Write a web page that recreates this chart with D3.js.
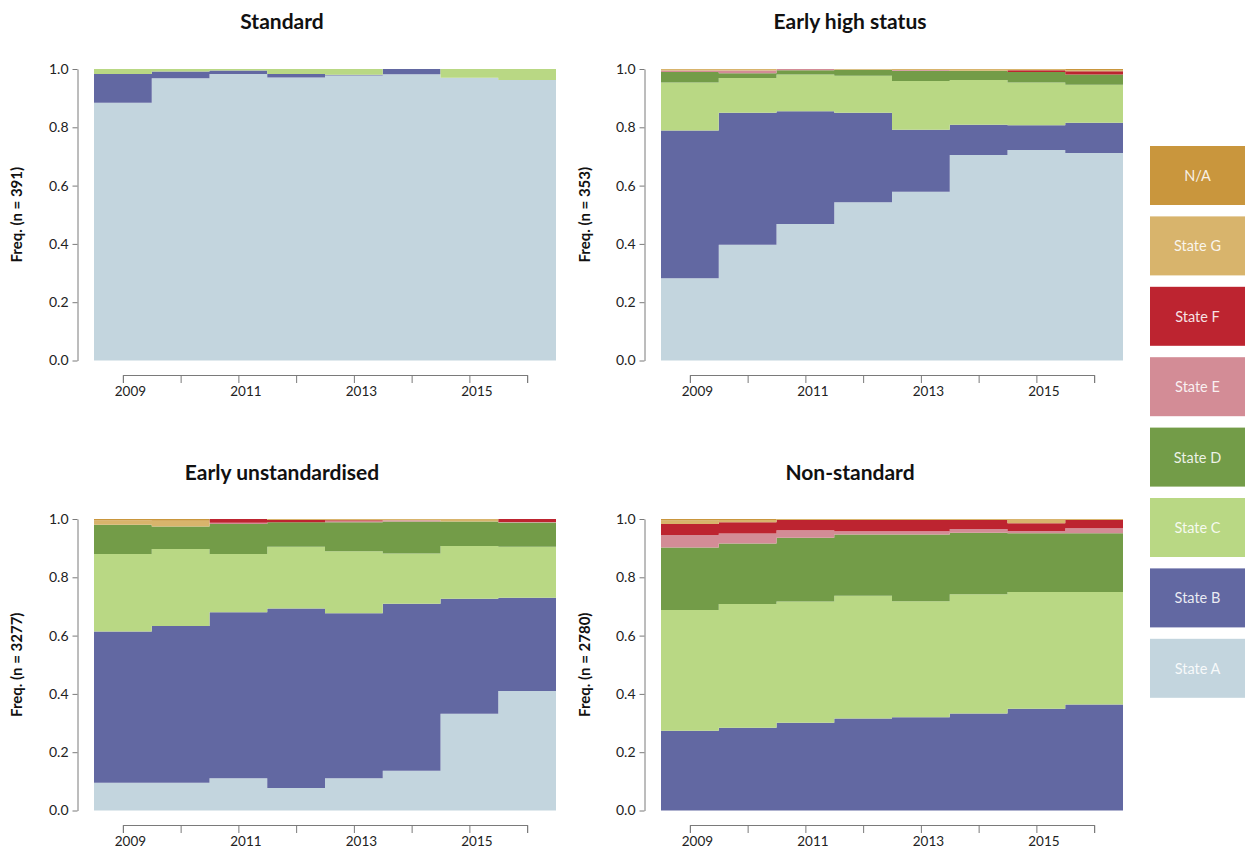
<!DOCTYPE html>
<html>
<head>
<meta charset="utf-8">
<script src="https://cdn.jsdelivr.net/npm/d3@7/dist/d3.min.js"></script>
<style>
  html, body { margin: 0; padding: 0; background: #ffffff; }
  svg { display: block; font-family: Lato, "Noto Sans", sans-serif; }
</style>
</head>
<body>
<svg id="chart" width="1245" height="848"></svg>
<script>
// Yearly state distributions, one panel per cluster.
const years = [2009, 2010, 2011, 2012, 2013, 2014, 2015, 2016];
const states = ["State A", "State B", "State C", "State D", "State E", "State F", "State G", "N/A"];
const stateColours = ["#c3d5de", "#6268a2", "#b9d884", "#739c48", "#d38c96", "#bd2430", "#d8b46c", "#c9963d"];
const panelTitles = ["Standard", "Early high status", "Early unstandardised", "Non-standard"];
const sampleSizes = [391, 353, 3277, 2780];
const yTicks = [0, 0.2, 0.4, 0.6, 0.8, 1.0];

// Shares per state (rows in the order of `states`), one value per year.
const standardShares = [
  [0.884, 0.968, 0.983, 0.971, 0.978, 0.982, 0.970, 0.962],
  [0.099, 0.023, 0.012, 0.012, 0.002, 0.018, 0.000, 0.000],
  [0.017, 0.009, 0.005, 0.017, 0.020, 0.000, 0.030, 0.038],
  [0, 0, 0, 0, 0, 0, 0, 0],
  [0, 0, 0, 0, 0, 0, 0, 0],
  [0, 0, 0, 0, 0, 0, 0, 0],
  [0, 0, 0, 0, 0, 0, 0, 0],
  [0, 0, 0, 0, 0, 0, 0, 0]
];
const earlyHighStatusShares = [
  [0.282, 0.397, 0.468, 0.543, 0.579, 0.705, 0.722, 0.712],
  [0.507, 0.453, 0.387, 0.307, 0.213, 0.104, 0.085, 0.104],
  [0.165, 0.119, 0.126, 0.127, 0.167, 0.153, 0.147, 0.130],
  [0.036, 0.016, 0.015, 0.020, 0.035, 0.032, 0.036, 0.035],
  [0.005, 0.010, 0.004, 0.000, 0.003, 0.000, 0.000, 0.000],
  [0.000, 0.000, 0.000, 0.000, 0.000, 0.000, 0.006, 0.011],
  [0.005, 0.005, 0.000, 0.003, 0.003, 0.006, 0.004, 0.004],
  [0.000, 0.000, 0.000, 0.000, 0.000, 0.000, 0.000, 0.004]
];
const earlyUnstandardisedShares = [
  [0.095, 0.095, 0.111, 0.077, 0.111, 0.136, 0.332, 0.410],
  [0.519, 0.538, 0.569, 0.616, 0.566, 0.573, 0.394, 0.320],
  [0.266, 0.264, 0.200, 0.212, 0.212, 0.173, 0.181, 0.175],
  [0.100, 0.077, 0.103, 0.084, 0.100, 0.109, 0.084, 0.083],
  [0.000, 0.000, 0.004, 0.000, 0.003, 0.005, 0.000, 0.002],
  [0.000, 0.000, 0.013, 0.008, 0.004, 0.000, 0.000, 0.010],
  [0.015, 0.020, 0.000, 0.003, 0.004, 0.004, 0.009, 0.000],
  [0.005, 0.006, 0.000, 0.000, 0.000, 0.000, 0.000, 0.000]
];
const nonStandardShares = [
  [0.000, 0.000, 0.000, 0.000, 0.000, 0.000, 0.000, 0.000],
  [0.274, 0.284, 0.301, 0.316, 0.320, 0.333, 0.349, 0.364],
  [0.414, 0.424, 0.416, 0.421, 0.398, 0.409, 0.401, 0.386],
  [0.214, 0.208, 0.219, 0.210, 0.229, 0.211, 0.201, 0.201],
  [0.043, 0.034, 0.025, 0.011, 0.011, 0.013, 0.008, 0.017],
  [0.038, 0.039, 0.036, 0.039, 0.039, 0.031, 0.026, 0.029],
  [0.012, 0.008, 0.003, 0.003, 0.003, 0.003, 0.015, 0.003],
  [0.005, 0.003, 0.000, 0.000, 0.000, 0.000, 0.000, 0.000]
];

const panelShares = [standardShares, earlyHighStatusShares, earlyUnstandardisedShares, nonStandardShares];

const svg = d3.select("#chart");
const colour = d3.scaleOrdinal().domain(states).range(stateColours);

// Geometry of the 2 x 2 grid
const cols = [
  { axisX: 77.5, plotLeft: 94, plotRight: 556, centre: 282, labelX: 17 },
  { axisX: 644.5, plotLeft: 661, plotRight: 1123, centre: 850, labelX: 585 }
];
const rows = [
  { top: 69, bottom: 360.5, titleY: 29 },
  { top: 519, bottom: 810.5, titleY: 480 }
];

panelShares.forEach((shares, p) => {
  const c = cols[p % 2], r = rows[Math.floor(p / 2)];
  const g = svg.append("g");

  const x = d3.scaleLinear()
    .domain([years[0] - 0.5, years[years.length - 1] + 0.5])
    .range([c.plotLeft, c.plotRight]);
  const y = d3.scaleLinear().domain([0, 1]).range([r.bottom, r.top]);

  const table = years.map((yr, i) => {
    const row = { year: yr };
    states.forEach((s, k) => { row[s] = shares[k][i]; });
    return row;
  });
  const layers = d3.stack().keys(states)(table);

  const area = d3.area()
    .x(d => x(d.data.year - 0.5))
    .y0(d => y(d[0]))
    .y1(d => y(d[1]))
    .curve(d3.curveStepAfter);

  g.append("g").selectAll("path")
    .data(layers)
    .join("path")
    .attr("fill", d => colour(d.key))
    .attr("d", d => {
      const last = d[d.length - 1];
      const closing = Object.assign([last[0], last[1]], { data: { year: last.data.year + 1 } });
      return area(d.concat([closing]));
    });

  // y axis
  const yAxis = g.append("g")
    .attr("transform", `translate(${c.axisX},0)`)
    .call(d3.axisLeft(y).tickValues(yTicks).tickFormat(d3.format(".1f")).tickSize(5).tickSizeOuter(0).tickPadding(4));
  // x axis, ticks at the middle of every yearly step
  const xa = d3.scaleLinear().domain([years[0], years[years.length - 1]])
    .range([x(years[0]), x(years[years.length - 1])]);
  const xAxis = g.append("g")
    .attr("transform", `translate(0,${r.bottom + 14.5})`)
    .call(d3.axisBottom(xa).tickValues(years).tickFormat(d => (d % 2 === 1 ? String(d) : ""))
      .tickSize(8).tickSizeOuter(8).tickPadding(3));
  xAxis.selectAll("text").attr("dx", 7);

  [yAxis, xAxis].forEach(a => {
    a.select(".domain").attr("stroke", "#7a7a7a");
    a.selectAll(".tick line").attr("stroke", "#7a7a7a");
    a.selectAll("text").attr("fill", "#222").style("font-size", "14px").style("font-family", "Lato, 'Noto Sans', sans-serif");
  });
  xAxis.selectAll("text").style("font-size", "13.5px");

  // panel title
  g.append("text")
    .attr("x", c.centre).attr("y", r.titleY)
    .attr("text-anchor", "middle")
    .style("font-size", "21px").style("font-weight", "bold").attr("fill", "#111")
    .text(panelTitles[p]);

  // y label
  g.append("text")
    .attr("transform", `translate(${c.labelX + 5},${(r.top + r.bottom) / 2}) rotate(-90)`)
    .attr("text-anchor", "middle")
    .style("font-size", "15px").style("font-weight", "bold").attr("fill", "#111")
    .text(`Freq. (n = ${sampleSizes[p]})`);
});

// Legend, N/A on top down to State A
const legendStates = states.slice().reverse();
const legend = svg.append("g").attr("transform", "translate(1150,146)");
const item = legend.selectAll("g").data(legendStates).join("g")
  .attr("transform", (d, i) => `translate(0,${i * 70.4})`);
item.append("rect").attr("width", 95).attr("height", 59).attr("fill", d => colour(d));
item.append("text")
  .attr("x", 47.5).attr("y", 29.5)
  .attr("text-anchor", "middle").attr("dominant-baseline", "central")
  .attr("fill", "#ffffff").attr("fill-opacity", 0.88)
  .style("font-size", "14.5px")
  .text(d => d);
</script>
</body>
</html>
